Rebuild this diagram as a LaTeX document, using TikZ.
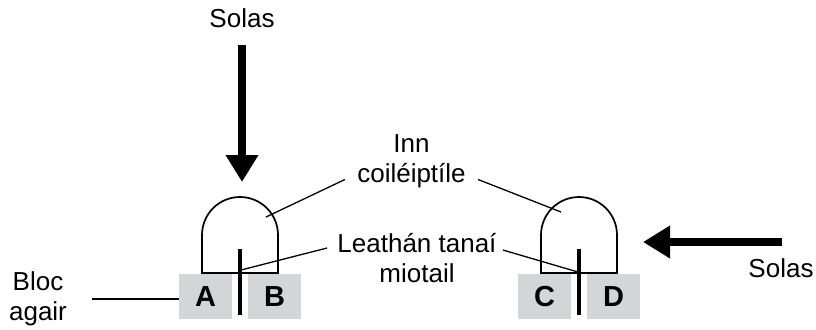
\documentclass[tikz,border=0pt]{standalone}
\usepackage{fontspec}
\setmainfont{Liberation Sans}
\usetikzlibrary{arrows.meta,positioning}
\definecolor{blockgray}{HTML}{D4D5D6}
\tikzset{
    txt/.style={font=\fontsize{13}{15}\selectfont, align=center, inner sep=0pt},
    block/.style={fill=blockgray, minimum width=26.5pt, minimum height=22.5pt, inner sep=0pt, font=\fontsize{14.5}{16}\selectfont\bfseries},
    leader/.style={line width=0.65pt},
    outline/.style={line width=0.85pt},
    leaf/.style={line width=1.9pt},
    ray/.style={line width=3.8pt, -{Triangle[length=13.5pt,width=15.5pt]}},
}

\begin{document}
\begin{tikzpicture}[x=0.5pt,y=-0.5pt]
    \useasboundingbox (0,0) rectangle (816,329);

    % draw the two cells
    \foreach \c/\l/\r in {240/A/B,579/C/D}{
        \node[block] (blk\l) at (\c-34.5,296.5) {\l};
        \node[block] (blk\r) at (\c+34.5,296.5) {\r};
        \draw[outline] (\c-38,273) -- (\c-38,235) arc[start angle=180,end angle=360,radius=38] -- (\c+38,273) -- cycle;
        \draw[leaf] (\c,249) -- (\c,315);
    }

    % points the labels point to
    \coordinate (domeL) at (266,217);
    \coordinate (domeR) at (561,212);
    \coordinate (leafL) at (241,270);
    \coordinate (leafR) at (578,272);

    % draw the light arrows
    \node[txt,anchor=base] (solastop) at (242,27) {Solas};
    \coordinate (toptip) at (242,182);
    \draw[ray,shorten <=8.75pt] (solastop) -- (toptip);

    \node[txt,anchor=base] (solasright) at (781,277) {Solas};
    \coordinate (righttail) at (782,242);
    \coordinate (righttip) at (643,242);
    \draw[ray] (righttail) -- (righttip);

    % label the parts
    \node[txt] (bloc) at (38,299) {Bloc\\agair};
    \draw[leader,shorten <=12.5pt] (bloc.east) -- (bloc.east -| blkA.west);

    \node[txt] (coil) at (411.5,161.5) {Inn\\coiléiptíle};
    \draw[leader] ([shift={(-6pt,-9pt)}]coil.west) -- (domeL);
    \draw[leader] ([shift={(6pt,-9pt)}]coil.east) -- (domeR);

    \node[txt] (foil) at (417,258) {Leathán tanaí\\miotail};
    \draw[leader] ([shift={(-5pt,5pt)}]foil.west) -- (leafL);
    \draw[leader] ([shift={(3pt,4pt)}]foil.east) -- (leafR);
\end{tikzpicture}
\end{document}
